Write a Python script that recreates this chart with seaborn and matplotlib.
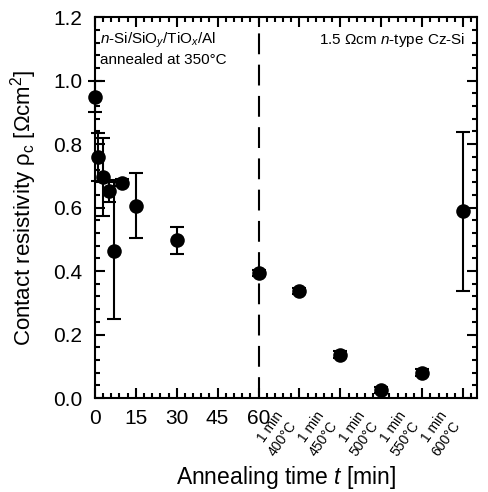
import numpy as np
import pandas as pd
import matplotlib
matplotlib.use("Agg")
import matplotlib.pyplot as plt
import seaborn as sns
from matplotlib.ticker import MultipleLocator, FixedLocator

# ---- data ----
time_min = [0, 1, 3, 5, 7, 10, 15, 30, 60]
rho_time = [0.95, 0.76, 0.695, 0.653, 0.463, 0.679, 0.605, 0.498, 0.393]
err_low_time = [0.90, 0.685, 0.575, 0.618, 0.248, 0.669, 0.503, 0.454, 0.383]
err_high_time = [1.00, 0.835, 0.82, 0.687, 0.68, 0.689, 0.71, 0.54, 0.403]

temp_labels = ["1 min\n400°C", "1 min\n450°C", "1 min\n500°C", "1 min\n550°C", "1 min\n600°C"]
temp_pos = [75, 90, 105, 120, 135]
rho_temp = [0.337, 0.137, 0.025, 0.080, 0.59]
err_low_temp = [0.327, 0.127, 0.015, 0.070, 0.337]
err_high_temp = [0.347, 0.147, 0.035, 0.090, 0.839]

num_tick_labels = ["0", "15", "30", "45", "60"]

sns.set_style("ticks")
plt.rcParams["font.family"] = ["Liberation Sans", "DejaVu Sans"]
plt.rcParams["mathtext.fontset"] = "custom"
plt.rcParams["mathtext.rm"] = "Liberation Sans"
plt.rcParams["mathtext.it"] = "Liberation Sans:italic"
plt.rcParams["mathtext.bf"] = "Liberation Sans:bold"
plt.rcParams["text.color"] = "black"
plt.rcParams["axes.labelcolor"] = "black"
plt.rcParams["xtick.color"] = "black"
plt.rcParams["ytick.color"] = "black"

df = pd.DataFrame({
    "x": time_min + temp_pos,
    "y": rho_time + rho_temp,
    "lo": err_low_time + err_low_temp,
    "hi": err_high_time + err_high_temp,
})

fig = plt.figure(figsize=(4.89, 4.92), dpi=100)
ax = fig.add_axes([0.194, 0.191, 0.781, 0.774])

eb = ax.errorbar(df["x"], df["y"], yerr=[df["y"] - df["lo"], df["hi"] - df["y"]],
                 fmt="none", ecolor="black", elinewidth=1.5, capsize=4.8, capthick=1.5, zorder=2)
for art in eb.lines[1] + eb.lines[2]:
    art.set_clip_on(False)
sns.scatterplot(data=df, x="x", y="y", ax=ax, color="black", s=110,
                edgecolor="black", linewidth=0, zorder=3, legend=False)
for coll in ax.collections:
    coll.set_clip_on(False)

ax.axvline(60, color="black", lw=1.5, linestyle=(0, (10, 5)), zorder=1)

ax.set_xlim(0, 140)
ax.set_ylim(0, 1.2)
ax.xaxis.set_major_locator(FixedLocator([0, 15, 30, 45, 60] + temp_pos))
ax.xaxis.set_minor_locator(MultipleLocator(3))
ax.yaxis.set_major_locator(MultipleLocator(0.2))
ax.yaxis.set_minor_locator(MultipleLocator(0.04))
ax.set_yticklabels([f"{v:.1f}" for v in ax.get_yticks()])
ax.set_xticklabels(num_tick_labels + temp_labels)

ax.tick_params(which="both", direction="in", top=True, right=True, width=1.5,
               color="black", labelcolor="black")
ax.tick_params(which="major", length=7)
ax.tick_params(axis="x", which="major", pad=8)
ax.tick_params(axis="y", which="major", pad=9)
ax.tick_params(which="minor", length=3.5)

for i, lab in enumerate(ax.get_xticklabels()):
    if i >= 5:
        lab.set_rotation(55)
        lab.set_fontsize(10)
        lab.set_ha("right")
        lab.set_va("top")
        lab.set_multialignment("right")
    else:
        lab.set_fontsize(15)
for lab in ax.get_yticklabels():
    lab.set_fontsize(15)

for s in ax.spines.values():
    s.set_linewidth(1.5)
    s.set_color("black")

ax.set_xlabel("Annealing time $t$ [min]", fontsize=16.5, labelpad=4, color="black")
ax.set_ylabel(r"Contact resistivity ρ$_\mathregular{c}$ [Ωcm$^\mathregular{2}$]",
              fontsize=16, labelpad=10, color="black")

ax.text(0.014, 0.965, "$n$-Si/SiO$_y$/TiO$_x$/Al", transform=ax.transAxes,
        fontsize=11, ha="left", va="top")
ax.text(0.014, 0.905, "annealed at 350°C", transform=ax.transAxes,
        fontsize=11, ha="left", va="top")
ax.text(0.97, 0.965, "1.5 Ωcm $n$-type Cz-Si", transform=ax.transAxes,
        fontsize=11, ha="right", va="top")

fig.savefig("out.png", dpi=100)
